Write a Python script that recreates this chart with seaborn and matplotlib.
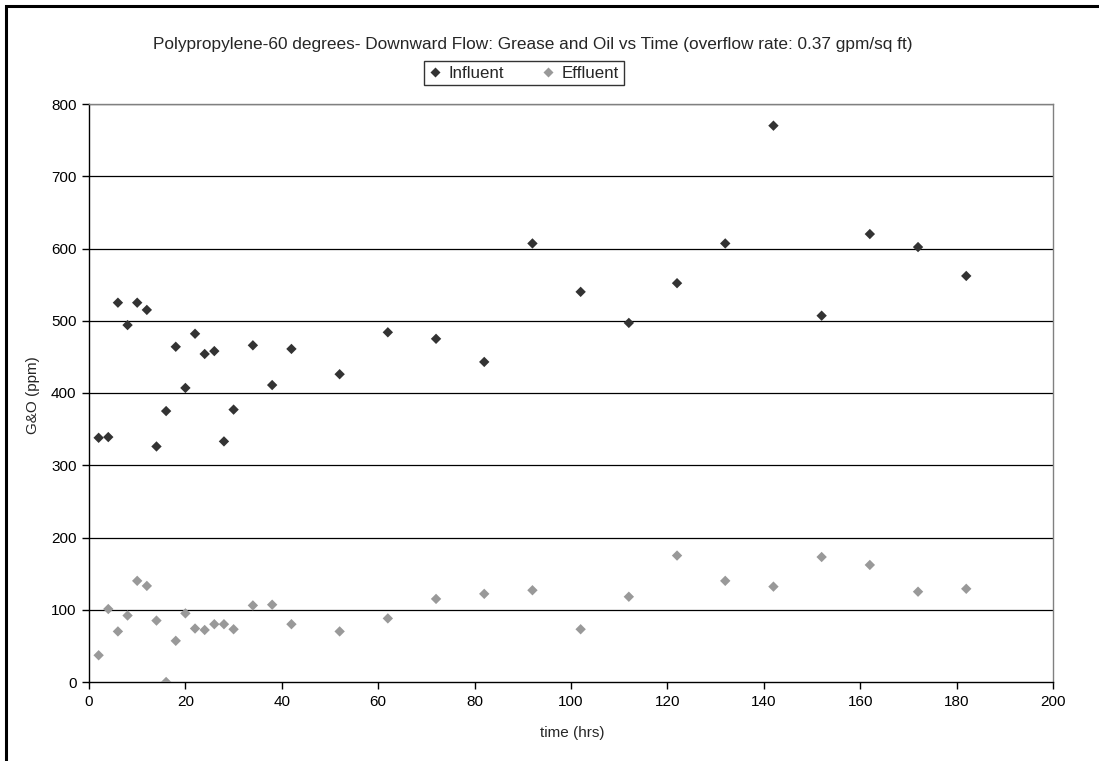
import matplotlib
matplotlib.use("Agg")
import matplotlib.pyplot as plt
import seaborn as sns
import pandas as pd
from matplotlib.lines import Line2D

time_hrs = [2, 4, 6, 8, 10, 12, 14, 16, 18, 20, 22, 24, 26, 28, 30,
            34, 38, 42, 52, 62, 72, 82, 92, 102, 112, 122, 132, 142, 152, 162, 172, 182]
influent = [338, 339, 525, 494, 525, 515, 326, 375, 464, 407, 482, 454, 458, 333, 377,
            466, 411, 461, 426, 484, 475, 443, 607, 540, 497, 552, 607, 770, 507, 620, 602, 562]
effluent = [37, 101, 70, 92, 140, 133, 85, 0, 57, 95, 74, 72, 80, 80, 73,
            106, 107, 80, 70, 88, 115, 122, 127, 73, 118, 175, 140, 132, 173, 162, 125, 129]
series_names = ["Influent", "Effluent"]
x_ticks = list(range(0, 201, 20))
y_ticks = list(range(0, 801, 100))

sns.set_theme(style="white")
plt.rcParams["font.family"] = ["Liberation Sans", "DejaVu Sans"]

df = pd.DataFrame({
    "time": time_hrs * 2,
    "value": influent + effluent,
    "series": [series_names[0]] * len(time_hrs) + [series_names[1]] * len(time_hrs),
})
colors = {"Influent": "#333333", "Effluent": "#999999"}

fig = plt.figure(figsize=(10.99, 7.61), dpi=100)
ax = fig.add_axes([89 / 1099, 1 - 682 / 761, (1053 - 89) / 1099, (682 - 104) / 761])

for y in y_ticks[1:]:
    ax.axhline(y, color="black", lw=0.9, zorder=1)

sns.scatterplot(data=df, x="time", y="value", hue="series", palette=colors,
                marker="D", s=28, edgecolor="none", legend=False, ax=ax, zorder=3)

ax.set_xlim(0, 200)
ax.set_ylim(0, 800)
ax.set_xticks(x_ticks)
ax.set_yticks(y_ticks)
fs = 11
ax.tick_params(axis="both", direction="out", length=5, width=1, color="black",
               labelsize=fs, labelcolor="black", pad=4)
ax.tick_params(axis="x", bottom=True)
ax.tick_params(axis="y", left=True)
for side in ["left", "bottom"]:
    ax.spines[side].set_color("black")
    ax.spines[side].set_linewidth(1)
for side in ["top", "right"]:
    ax.spines[side].set_color("#808080")
    ax.spines[side].set_linewidth(1)
ax.set_xlabel("")
ax.set_ylabel("")

fig.text(572 / 1099, 1 - 733 / 761, "time (hrs)", ha="center", va="center", fontsize=fs)
fig.text(33 / 1099, 1 - 395 / 761, "G&O (ppm)", ha="center", va="center",
         rotation=90, fontsize=fs)
fig.text(533 / 1099, 1 - 44 / 761,
         "Polypropylene-60 degrees- Downward Flow: Grease and Oil vs Time (overflow rate: 0.37 gpm/sq ft)",
         ha="center", va="center", fontsize=12.4)

handles = [Line2D([], [], ls="none", marker="D", markersize=5, color=colors[n], mec="none")
           for n in series_names]
leg = fig.legend(handles, series_names, loc="center", bbox_to_anchor=(524 / 1099, 1 - 73 / 761),
                 ncol=2, frameon=True, fontsize=12.2, handlelength=0.7, handletextpad=0.5,
                 columnspacing=2.2, borderpad=0.25, fancybox=False)
leg.get_frame().set_edgecolor("black")
leg.get_frame().set_linewidth(1)

# outer chart border (top and left visible)
fig.add_artist(plt.Rectangle((6 / 1099, -0.05), 1.2, 1 - 6 / 761 + 0.05,
                             transform=fig.transFigure, fill=False, edgecolor="black", lw=2.2))

fig.savefig("out.png", dpi=100)
